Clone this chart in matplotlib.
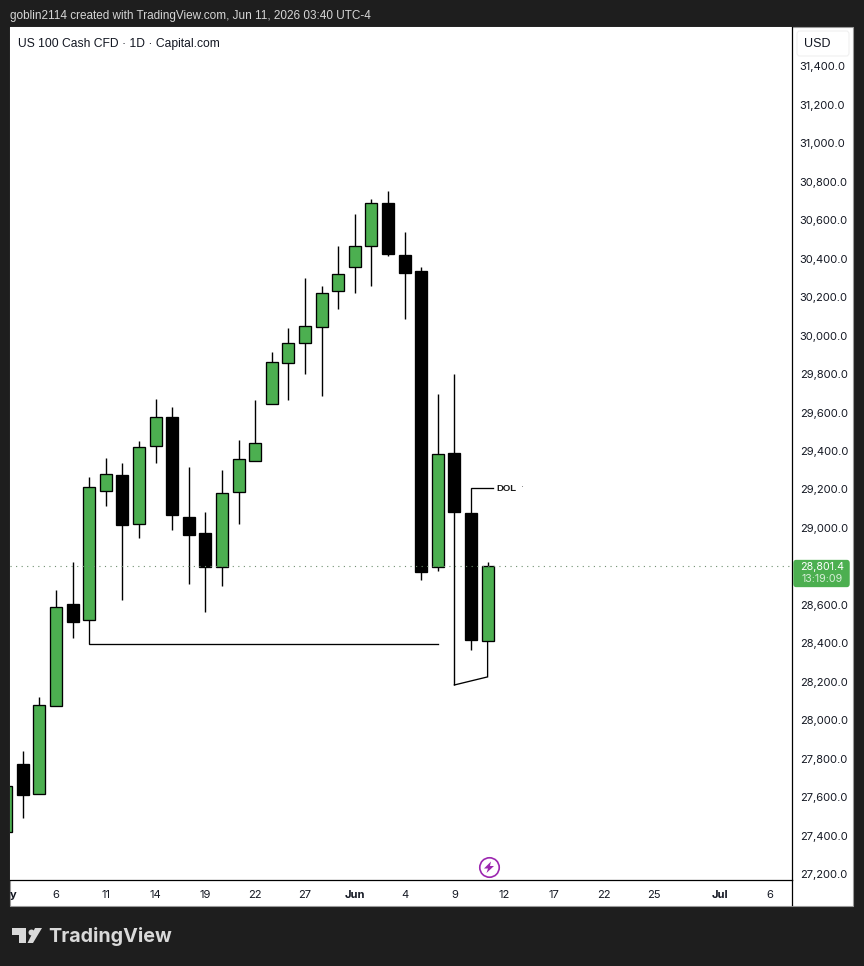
import numpy as np
import matplotlib
matplotlib.use("Agg")
import matplotlib.pyplot as plt
from matplotlib.patches import Rectangle, FancyBboxPatch, Polygon

W, H = 864, 966

# daily candles, bar index 0 is May 6
bar_idx = list(range(-3, 27))
opens = [27418, 27772, 27616, 28074, 28604, 28521, 29192, 29275, 29020, 29426, 29577, 29057, 28973,
         28797, 29187, 29348, 29644, 29858, 29962, 30045, 30232, 30357, 30466, 30690, 30420, 30336,
         28797, 29390, 29077, 28412]
highs = [27657, 27840, 28120, 28677, 28823, 29265, 29364, 29338, 29452, 29670, 29629, 29317, 29083,
         29301, 29457, 29665, 29915, 30040, 30300, 30258, 30466, 30633, 30711, 30752, 30539, 30357,
         29696, 29800, 29077, 28823]
lows = [27418, 27491, 27616, 28074, 28427, 28521, 29114, 28625, 28947, 29338, 28989, 28708, 28563,
        28698, 29020, 29348, 29644, 29665, 29800, 29686, 30139, 30222, 30258, 30414, 30087, 28729,
        28776, 28183, 28365, 28412]
closes = [27657, 27611, 28079, 28589, 28511, 29213, 29280, 29015, 29421, 29577, 29067, 28963, 28797,
          29182, 29358, 29442, 29863, 29962, 30050, 30222, 30321, 30466, 30690, 30425, 30326, 28771,
          29384, 29083, 28417, 28801.4]

last_price = 28801.4
price_ticks = list(range(27200, 31600, 200))
# the first label is what is left of "May" at the left edge
date_ticks = [-2.6, 0, 3, 6, 9, 12, 15, 18, 21, 24, 27, 30, 33, 36, 40, 43]
date_labels = ["y", "6", "11", "14", "19", "22", "27", "Jun", "4", "9", "12", "17", "22", "25", "Jul", "6"]

# drawings on the chart, (bar, price)
support_line = [(2, 28521), (2, 28395), (23, 28395)]
slant_line = [(24, 28183), (26, 28225), (26, 28412)]
dol_line = [(25, 29077), (25, 29207), (26.3, 29207)]

DARK = "#1e1e1e"
GREEN = "#4caf50"
PURPLE = "#9c27b0"
AX_L, AX_R, AX_T, AX_B = 10, 792, 27, 880


def fx(px):
    return px / W


def fy(py):
    return 1 - py / H


plt.rcParams["font.family"] = ["Liberation Sans", "DejaVu Sans"]
fig = plt.figure(figsize=(W / 100, H / 100), dpi=100, facecolor=DARK)

# white panel behind the chart
fig.patches.append(Rectangle((fx(10), fy(906)), fx(842.5), 879.5 / H, transform=fig.transFigure,
                             facecolor="white", edgecolor="#9a9a9a", linewidth=0.8, zorder=-5))

ax = fig.add_axes([fx(AX_L), fy(AX_B), fx(AX_R - AX_L), (AX_B - AX_T) / H])
ax.set_facecolor("white")

o = np.array(opens)
c = np.array(closes)
colors = [GREEN if b > a else "black" for a, b in zip(opens, closes)]
ax.vlines(bar_idx, lows, highs, color="black", linewidth=1.0, zorder=2)
ax.bar(bar_idx, np.abs(c - o), bottom=np.minimum(o, c), width=0.73, color=colors,
       edgecolor="black", linewidth=0.95, zorder=3)

ax.axhline(last_price, color="#6f8f70", linewidth=0.8, linestyle=(0, (1, 4)), zorder=4)

for line in [support_line, slant_line, dol_line]:
    ax.plot([p[0] for p in line], [p[1] for p in line], color="black", linewidth=0.95, zorder=2,
            solid_joinstyle="miter")
ax.text(26.5, 29207, "DOL", fontsize=6.8, fontweight="bold", color="#1a1a1a", va="center", ha="left")
ax.text(28.0, 29207, "·", fontsize=6, color="#555555", va="center", ha="left")

ax.yaxis.tick_right()
ax.set_yticks(price_ticks)
ax.set_yticklabels([f"{p:,.1f}" for p in price_ticks], fontsize=8, color="#131722")
ax.tick_params(axis="y", length=0, pad=5.5)
ax.set_xticks(date_ticks)
ax.set_xticklabels(date_labels, fontsize=8, color="#131722")
ax.tick_params(axis="x", length=0, pad=7)
for lab in ax.get_xticklabels():
    if lab.get_text() in ("y", "Jun", "Jul"):
        lab.set_fontweight("bold")
for lab in ax.get_yticklabels() + ax.get_xticklabels():
    lab.set_family(["Inter", "DejaVu Sans"])

# scale: 56px is bar 0, 16.6px a bar; 31400 is at 66.5px, 200 points is 38.45px
# set after the ticks, set_xticks would widen the view otherwise
ax.set_xlim((AX_L - 56) / 16.6, (AX_R - 56) / 16.6)
ax.set_ylim(31400 - (AX_B - 66.5) / 38.45 * 200, 31400 - (AX_T - 66.5) / 38.45 * 200)

ax.spines["top"].set_visible(False)
ax.spines["left"].set_visible(False)
ax.spines["right"].set_linewidth(0.9)
ax.spines["bottom"].set_linewidth(0.9)

# right axis line runs on through the date strip
fig.add_artist(plt.Line2D([fx(AX_R), fx(AX_R)], [fy(880), fy(905)], color="black", linewidth=0.9))

# header and legend
fig.text(fx(10), fy(16), "goblin2114 created with TradingView.com, Jun 11, 2026 03:40 UTC-4",
         color="#d6d6d6", fontsize=8.5, va="center")
fig.text(fx(18), fy(43.5), "US 100 Cash CFD · 1D · Capital.com", color="#131722", fontsize=8.7, va="center")

# currency button
fig.patches.append(FancyBboxPatch((fx(797), fy(56)), fx(52), 25 / H, transform=fig.transFigure,
                                  boxstyle="round,pad=0,rounding_size=0.003", mutation_aspect=H / W,
                                  facecolor="white", edgecolor="#f0f0f0", linewidth=0.8, zorder=4))
fig.text(fx(817), fy(44), "USD", color="#131722", fontsize=9, va="center", ha="center", zorder=6)

# last price tag
fig.patches.append(FancyBboxPatch((fx(795), fy(585)), fx(53), 23 / H, transform=fig.transFigure,
                                  boxstyle="round,pad=0.002,rounding_size=0.003", mutation_aspect=H / W,
                                  facecolor=GREEN, edgecolor="none", zorder=5))
fig.text(fx(822), fy(566.5), "28,801.4", color="white", fontsize=7.7, va="center", ha="center", zorder=6,
         family=["Inter", "DejaVu Sans"])
fig.text(fx(822), fy(579), "13:19:09", color="#d5eed6", fontsize=7.7, va="center", ha="center", zorder=6,
         family=["Inter", "DejaVu Sans"])

# lightning badge
fig.add_artist(plt.Line2D([fx(489)], [fy(867)], marker="o", markersize=14, markerfacecolor="white",
                          markeredgecolor=PURPLE, markeredgewidth=1.2, linestyle="none", zorder=5))
bolt = [(491, 861.5), (484, 868.5), (488, 868.5), (486.5, 873), (494, 866), (490, 866)]
fig.patches.append(Polygon([(fx(a), fy(b)) for a, b in bolt], transform=fig.transFigure,
                           facecolor=PURPLE, edgecolor="none", zorder=6))

# logo
logo = "#d9d9d9"
for pts in [[(12, 928), (26, 928), (26, 943), (19, 943), (19, 935), (12, 935)],
            [(35, 928), (42, 928), (33, 943), (27.5, 943)]]:
    fig.patches.append(Polygon([(fx(a), fy(b)) for a, b in pts], transform=fig.transFigure,
                               facecolor=logo, edgecolor="none"))
fig.add_artist(plt.Line2D([fx(31)], [fy(931.5)], marker="o", markersize=4.3, markerfacecolor=logo,
                          markeredgecolor="none", linestyle="none"))
fig.text(fx(48.5), fy(936), "TradingView", color=logo, fontsize=14.2, fontweight="bold", va="center",
         family=["Inter", "DejaVu Sans"])

fig.savefig("out.png", dpi=100, facecolor=DARK)
